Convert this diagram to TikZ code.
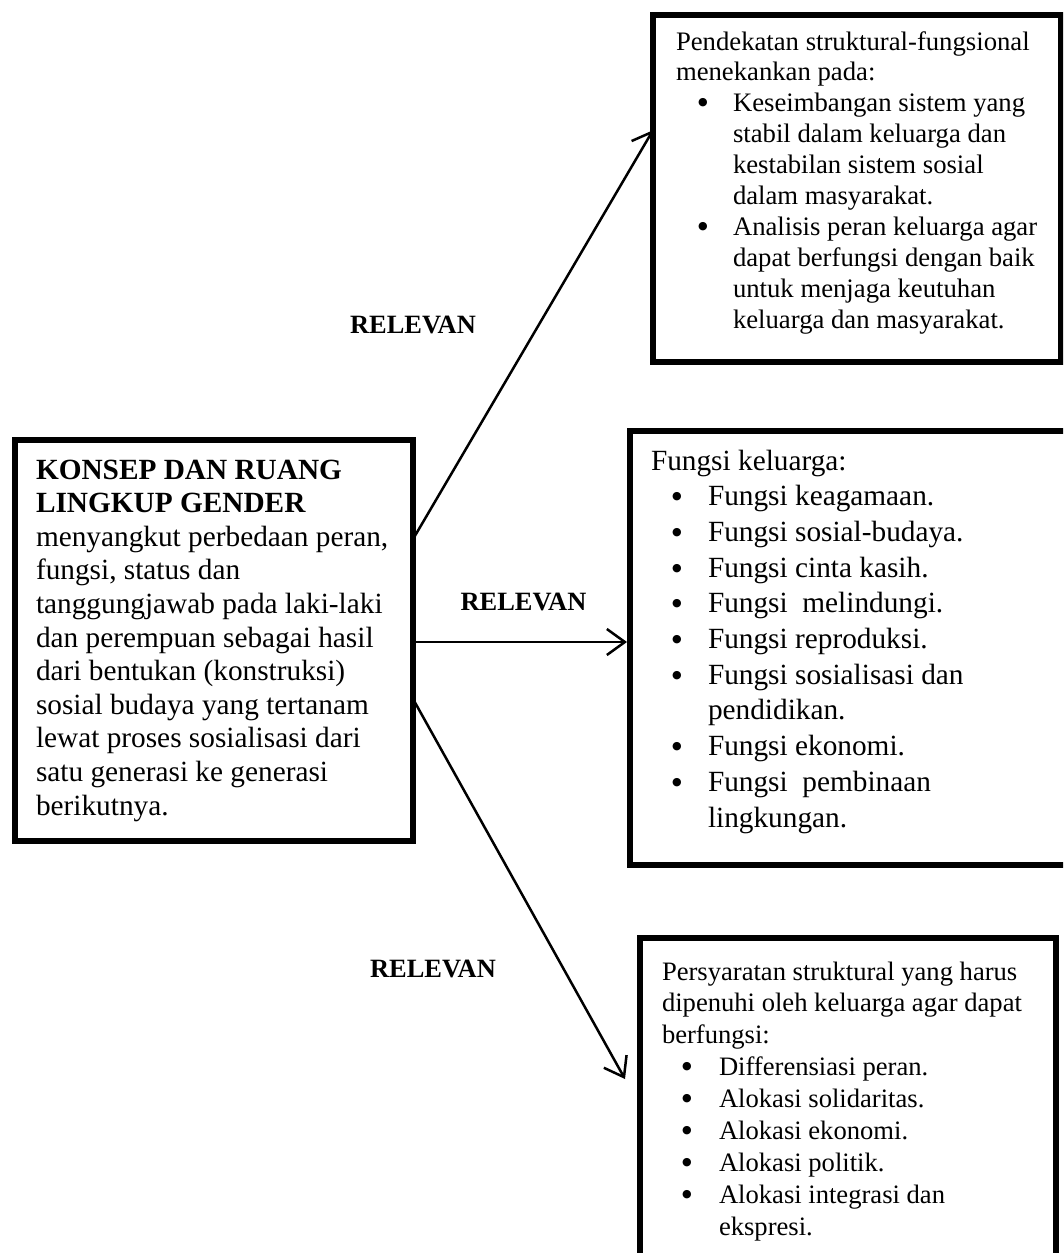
\documentclass[tikz,border=0pt]{standalone}
\usepackage{fontspec}
\setmainfont{Liberation Serif}
\newfontfamily\dotfont{DejaVu Sans}
\usetikzlibrary{arrows.meta}
\newcommand\bitm[2]{\makebox[57pt][l]{\hspace*{#1}\makebox[0pt][c]{\raisebox{6pt}{\dotfont\fontsize{11pt}{11pt}\selectfont ●}}}#2}
\newcommand\cont[1]{\hspace*{57pt}#1}
\begin{document}
\begin{tikzpicture}[x=1pt,y=-1pt,
  frame/.style={draw=black,line width=6pt,inner sep=0pt,outer sep=0pt},
  txt/.style={inner sep=0pt,outer sep=0pt,anchor=base west},
  lbl/.style={inner sep=0pt,anchor=base,font=\bfseries\fontsize{26.4pt}{30pt}\selectfont},
  arr/.style={line width=2.5pt,-{Straight Barb[length=18pt,width=26pt,line width=2.5pt]}}]
\useasboundingbox (0,0) rectangle (1063,1253);
\clip (0,0) rectangle (1063,1253);
% frames
\node[frame,minimum width=407.5pt,minimum height=347.5pt] (b1) at (856.75,188.25) {};
\node[frame,minimum width=397.5pt,minimum height=401pt] (gbox) at (213.75,640.5) {};
\node[frame,minimum width=438pt,minimum height=434pt] (b3) at (849,648) {};
\node[frame,minimum width=416pt,minimum height=327pt] (b4) at (848,1101.5) {};
% texts
\node[txt] (t1) at (676,50) {\parbox[t]{380pt}{\fontsize{26.7pt}{30.9pt}\selectfont
Pendekatan struktural-fungsional\\
menekankan pada:\\
\bitm{27pt}{Keseimbangan sistem yang}\\
\cont{stabil dalam keluarga dan}\\
\cont{kestabilan sistem sosial}\\
\cont{dalam masyarakat.}\\
\bitm{27pt}{Analisis peran keluarga agar}\\
\cont{dapat berfungsi dengan baik}\\
\cont{untuk menjaga keutuhan}\\
\cont{keluarga dan masyarakat.}}};
\node[txt] (t2) at (36,479) {\parbox[t]{380pt}{\fontsize{29.3pt}{33.6pt}\selectfont
\textbf{KONSEP DAN RUANG}\\
\textbf{LINGKUP GENDER}\\
menyangkut perbedaan peran,\\
fungsi, status dan\\
tanggungjawab pada laki-laki\\
dan perempuan sebagai hasil\\
dari bentukan (konstruksi)\\
sosial budaya yang tertanam\\
lewat proses sosialisasi dari\\
satu generasi ke generasi\\
berikutnya.}};
\node[txt] (t3) at (651,470) {\parbox[t]{410pt}{\fontsize{29.3pt}{35.7pt}\selectfont
Fungsi keluarga:\\
\bitm{26pt}{Fungsi keagamaan.}\\
\bitm{26pt}{Fungsi sosial-budaya.}\\
\bitm{26pt}{Fungsi cinta kasih.}\\
\bitm{26pt}{Fungsi~~melindungi.}\\
\bitm{26pt}{Fungsi reproduksi.}\\
\bitm{26pt}{Fungsi sosialisasi dan}\\
\cont{pendidikan.}\\
\bitm{26pt}{Fungsi ekonomi.}\\
\bitm{26pt}{Fungsi~~pembinaan}\\
\cont{lingkungan.}}};
\node[txt] (t4) at (662,980) {\parbox[t]{390pt}{\fontsize{26.6pt}{31.9pt}\selectfont
Persyaratan struktural yang harus\\
dipenuhi oleh keluarga agar dapat\\
berfungsi:\\
\bitm{25pt}{Differensiasi peran.}\\
\bitm{25pt}{Alokasi solidaritas.}\\
\bitm{25pt}{Alokasi ekonomi.}\\
\bitm{25pt}{Alokasi politik.}\\
\bitm{25pt}{Alokasi integrasi dan}\\
\cont{ekspresi.}}};
% labels
\node[lbl] (l1) at (413,333) {RELEVAN};
\node[lbl] (l2) at (523.5,610) {RELEVAN};
\node[lbl] (l3) at (433,977) {RELEVAN};
% connectors
\coordinate (a3end) at (625,1079);
\draw[arr] ([yshift=100.5pt]gbox.east) -- ([yshift=58pt]b1.west);
\draw[arr] ([yshift=-1.5pt]gbox.east) -- ([yshift=6pt,xshift=-3pt]b3.west);
\draw[arr] ([yshift=-57.5pt]gbox.east) -- (a3end);
\end{tikzpicture}
\end{document}
